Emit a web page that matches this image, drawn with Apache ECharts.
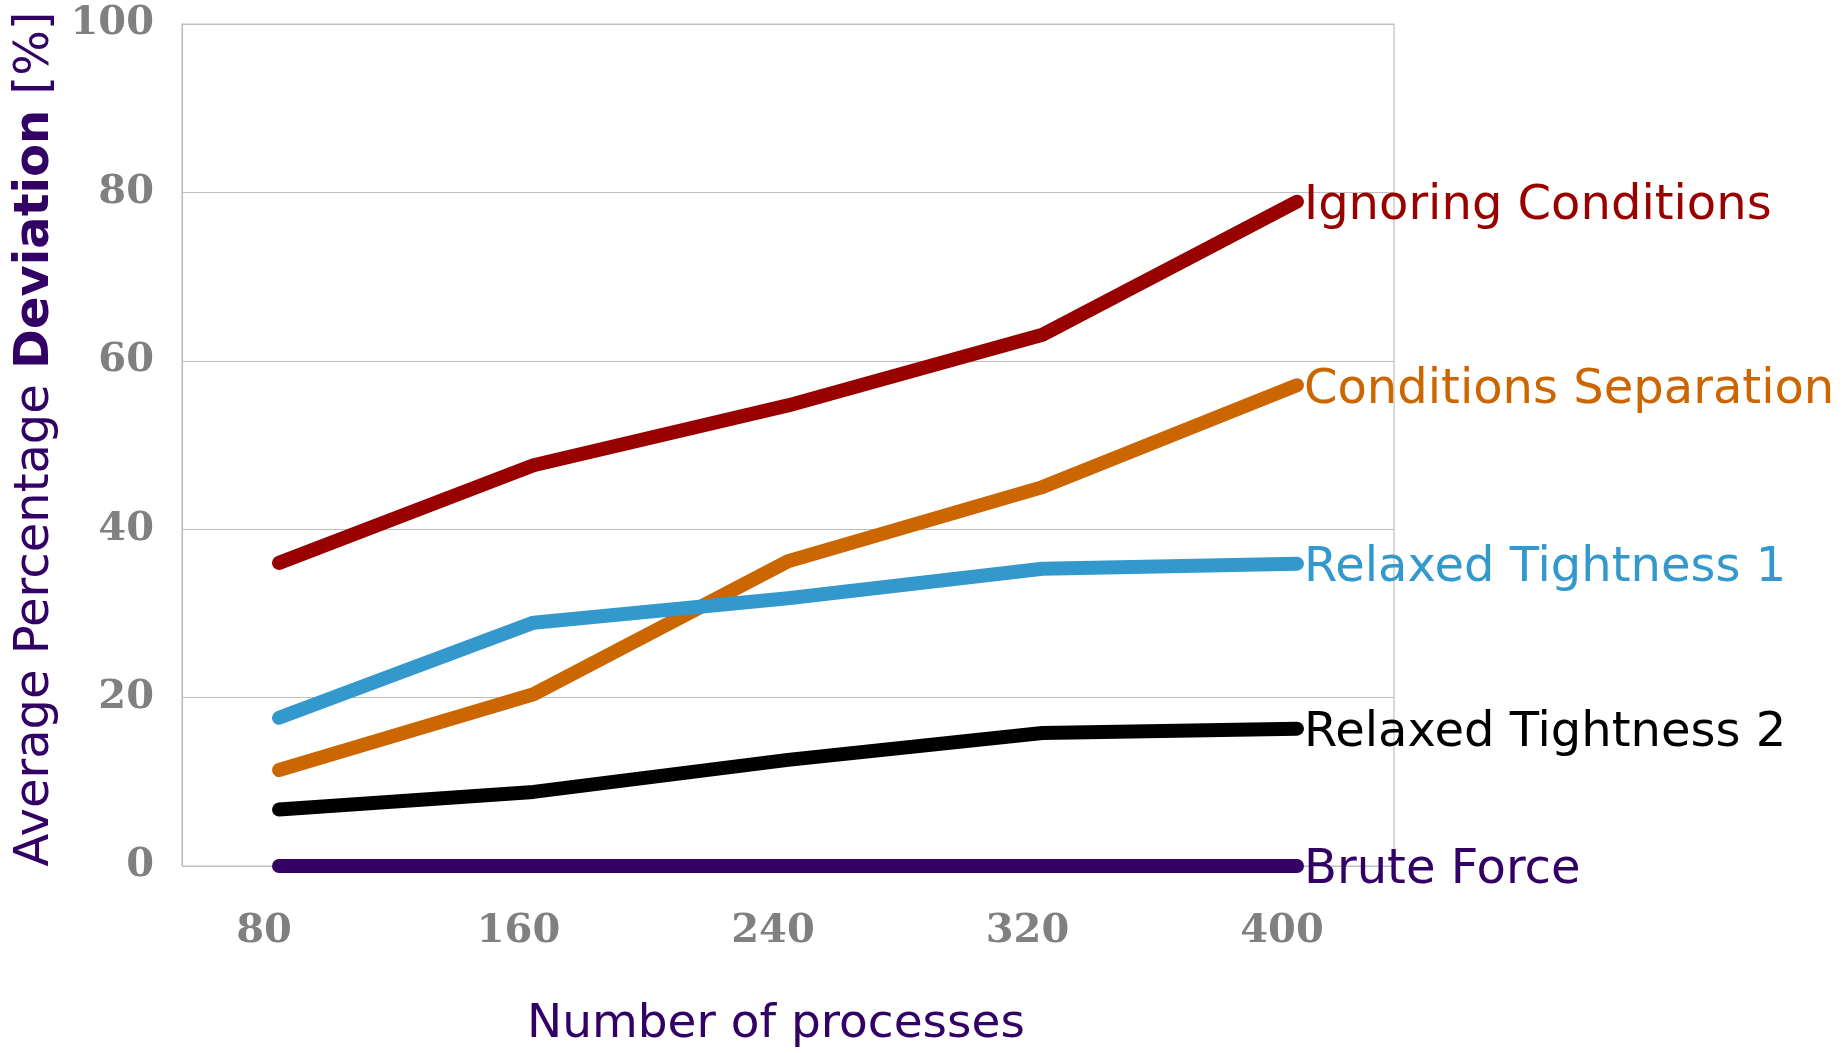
<!DOCTYPE html>
<html>
<head>
<meta charset="utf-8">
<title>Average Percentage Deviation</title>
<script src="https://cdn.jsdelivr.net/npm/echarts@6/dist/echarts.min.js"></script>
<style>
  html, body { margin: 0; padding: 0; background: #ffffff; }
  #chart { width: 1843px; height: 1053px; }
</style>
</head>
<body>
<div id="chart"></div>
<script>
// values
const processes = [80, 160, 240, 320, 400];
const yTicks = [0, 20, 40, 60, 80, 100];
const ignoringConditions = [36.0, 47.6, 54.7, 63.1, 78.9];
const conditionsSeparation = [11.4, 20.4, 36.2, 45.0, 57.1];
const relaxedTightness1 = [17.6, 28.9, 31.8, 35.3, 35.9];
const relaxedTightness2 = [6.7, 8.8, 12.6, 15.8, 16.3];
const bruteForce = [0, 0, 0, 0, 0];

const seriesList = [
  { name: 'Ignoring Conditions', values: ignoringConditions, color: '#990000' },
  { name: 'Conditions Separation', values: conditionsSeparation, color: '#cc6600' },
  { name: 'Relaxed Tightness 1', values: relaxedTightness1, color: '#3399cc' },
  { name: 'Relaxed Tightness 2', values: relaxedTightness2, color: '#000000' },
  { name: 'Brute Force', values: bruteForce, color: '#330066' }
];

const purple = '#330066';
const gridColor = '#bfbfbf';
const tickColor = '#808080';
const sansFont = '"DejaVu Sans", Verdana, sans-serif';
const serifFont = '"DejaVu Serif", Georgia, serif';

const chart = echarts.init(document.getElementById('chart'));

const option = {
  backgroundColor: '#ffffff',
  animation: false,
  grid: {
    left: 182,
    right: 449,
    top: 24,
    bottom: 181,
    show: true,
    borderColor: gridColor,
    borderWidth: 1.2
  },
  xAxis: {
    type: 'value',
    min: 49.5,
    max: 430.5,
    name: 'Number of processes',
    nameLocation: 'middle',
    nameGap: 135,
    nameTextStyle: {
      color: purple,
      fontFamily: sansFont,
      fontSize: 47,
      padding: [0, 24, 0, 0]
    },
    axisLine: { show: false },
    axisTick: { show: false },
    splitLine: { show: false },
    axisLabel: {
      customValues: processes,
      margin: 46,
      padding: [0, 30, 0, 0],
      color: tickColor,
      fontFamily: serifFont,
      fontWeight: 'bold',
      fontSize: 40
    }
  },
  yAxis: {
    type: 'value',
    min: 0,
    max: 100,
    interval: 20,
    name: '{n|Average Percentage }{b|Deviation}{n| [%]}',
    nameLocation: 'middle',
    nameGap: 116,
    nameRotate: 90,
    nameTextStyle: {
      color: purple,
      fontFamily: sansFont,
      fontSize: 48,
      padding: [0, 0, 0, 12],
      rich: {
        n: { color: purple, fontFamily: sansFont, fontSize: 48 },
        b: { color: purple, fontFamily: sansFont, fontSize: 48, fontWeight: 'bold' }
      }
    },
    axisLine: { show: true, lineStyle: { color: gridColor, width: 1.2 } },
    axisTick: { show: false },
    splitLine: { show: true, lineStyle: { color: gridColor, width: 1.2 } },
    axisLabel: {
      margin: 28,
      color: tickColor,
      fontFamily: serifFont,
      fontWeight: 'bold',
      fontSize: 40,
      formatter: v => (yTicks.includes(v) ? String(v) : '')
    }
  },
  series: seriesList.map(s => ({
    name: s.name,
    type: 'line',
    data: processes.map((p, i) => [p, s.values[i]]),
    showSymbol: false,
    clip: false,
    lineStyle: { color: s.color, width: 14, cap: 'round', join: 'round' },
    itemStyle: { color: s.color },
    endLabel: {
      show: true,
      formatter: '{a}',
      distance: 7,
      offset: [0, 5],
      color: s.color,
      fontFamily: sansFont,
      fontSize: 48
    }
  }))
};

chart.setOption(option);
window.addEventListener('resize', () => chart.resize());
</script>
</body>
</html>
